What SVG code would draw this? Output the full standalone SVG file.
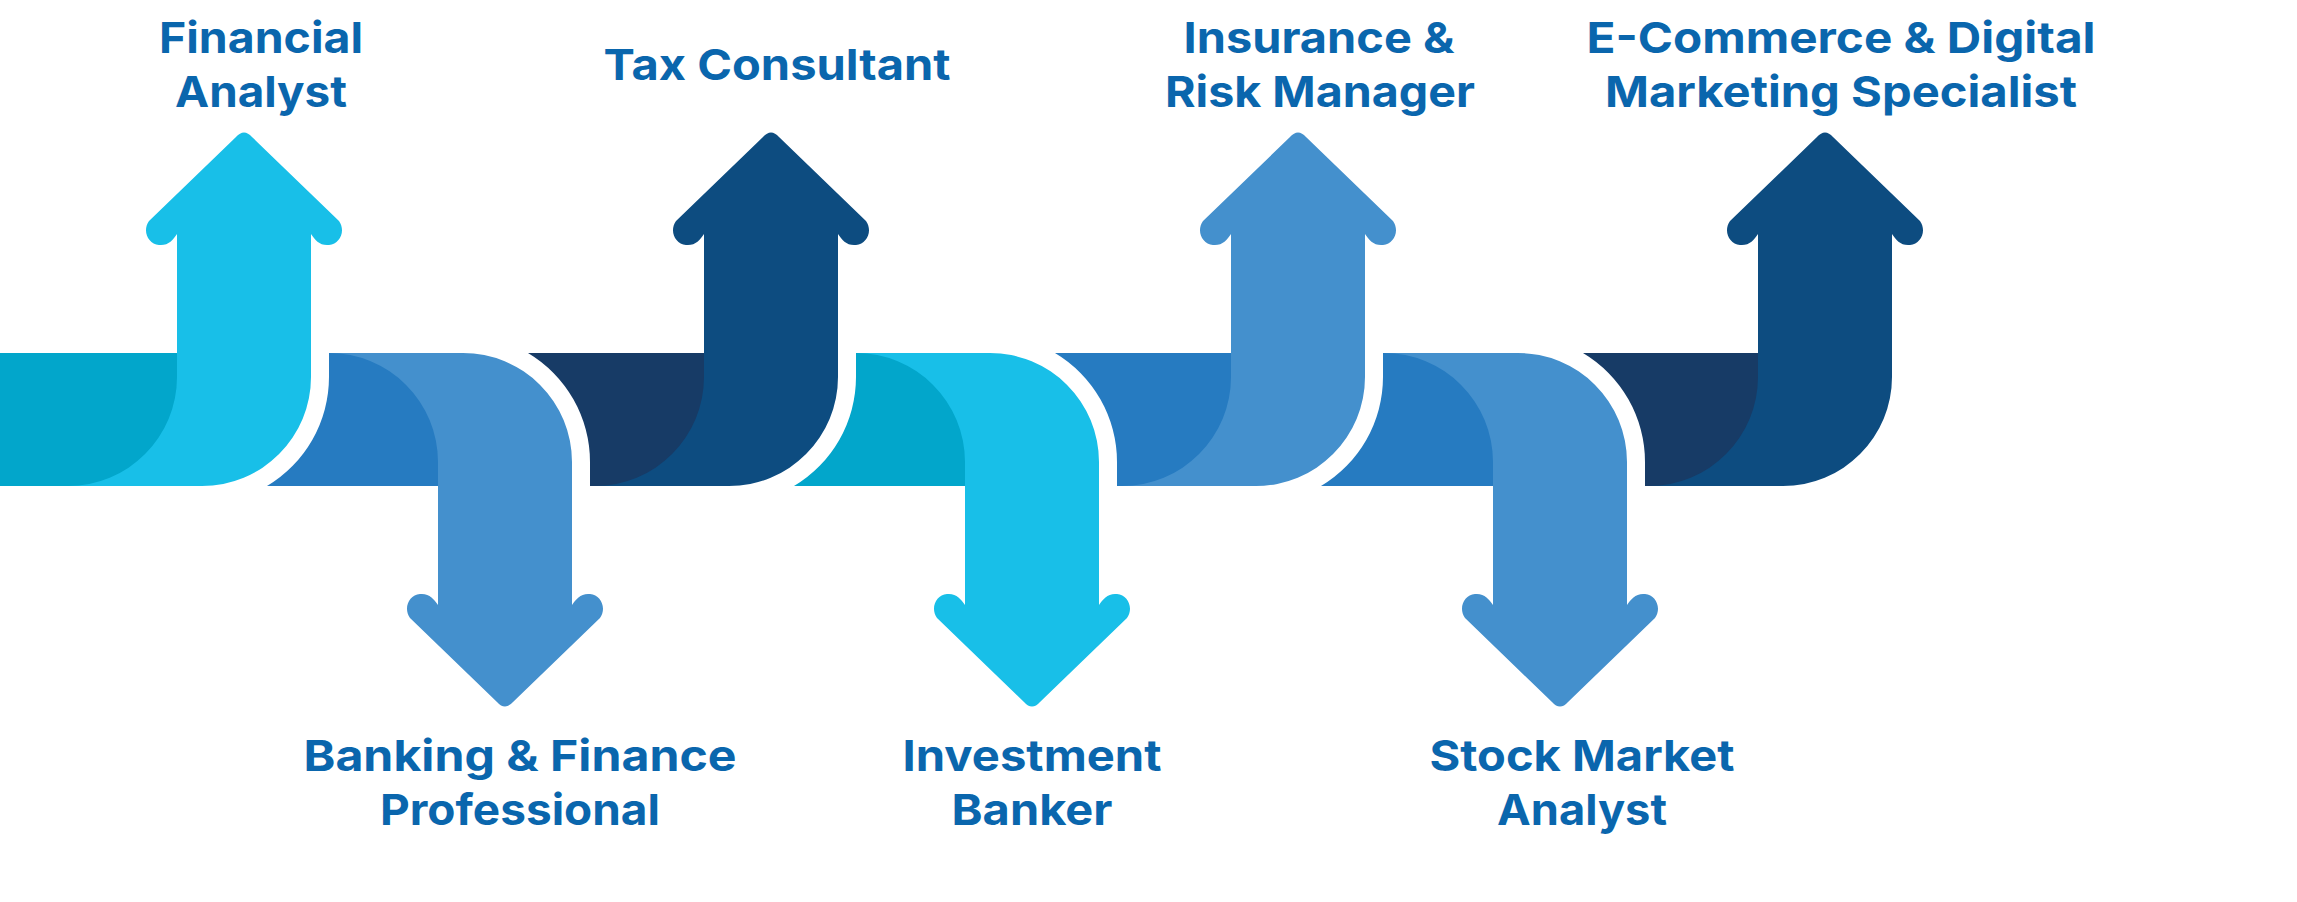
<svg xmlns="http://www.w3.org/2000/svg" xmlns:xlink="http://www.w3.org/1999/xlink" width="2297" height="902" viewBox="0 0 2297 902">
<style>
.lbl{font-family:Inter,"Open Sans","Liberation Sans",sans-serif;font-weight:700;font-size:43px;fill:#0A66AD;text-anchor:middle}
.cyan{fill:#18BFE8}.teal{fill:#02A6CB}.mid{fill:#4490CD}.blue{fill:#267BC1}.navy{fill:#0D4C80}.dnavy{fill:#173B66}
</style>
<defs>
<path id="up" d="M-67,234 C-71,240 -76,246 -85,245 C-96,244 -102,231 -95,221 L-8,137 Q0,128 8,137 L95,221 C102,231 96,244 85,245 C76,246 71,240 67,234 L67,377 A109,109 0 0 1 -42,486 L-176,486 A109,109 0 0 0 -67,377 Z"/>
</defs>
<rect width="2297" height="902" fill="#FFFFFF"/>
<g id="connectors"></g>
<g id="node1">
<rect class="teal" x="0" y="353" width="177" height="133"/>
<use href="#up" class="cyan" transform="translate(244,0)"/>
<text class="lbl" x="261" y="53" textLength="204" lengthAdjust="spacingAndGlyphs">Financial</text>
<text class="lbl" x="261" y="107" textLength="172" lengthAdjust="spacingAndGlyphs">Analyst</text>
</g>
<g id="node2">
<path class="blue" d="M329,353 L438,353 L438,486 L267,486 A127,127 0 0 0 329,377 Z"/>
<use href="#up" class="mid" transform="translate(505,839) scale(1,-1)"/>
<text class="lbl" x="520" y="771" textLength="433" lengthAdjust="spacingAndGlyphs">Banking &amp; Finance</text>
<text class="lbl" x="520" y="825" textLength="280" lengthAdjust="spacingAndGlyphs">Professional</text>
</g>
<g id="node3">
<path class="dnavy" d="M528,353 L704,353 L704,486 L590,486 L590,462 A127,127 0 0 0 528,353 Z"/>
<use href="#up" class="navy" transform="translate(771,0)"/>
<text class="lbl" x="777" y="80" textLength="347" lengthAdjust="spacingAndGlyphs">Tax Consultant</text>
</g>
<g id="node4">
<path class="teal" d="M856,353 L965,353 L965,486 L794,486 A127,127 0 0 0 856,377 Z"/>
<use href="#up" class="cyan" transform="translate(1032,839) scale(1,-1)"/>
<text class="lbl" x="1032" y="771" textLength="259" lengthAdjust="spacingAndGlyphs">Investment</text>
<text class="lbl" x="1032" y="825" textLength="161" lengthAdjust="spacingAndGlyphs">Banker</text>
</g>
<g id="node5">
<path class="blue" d="M1055,353 L1231,353 L1231,486 L1117,486 L1117,462 A127,127 0 0 0 1055,353 Z"/>
<use href="#up" class="mid" transform="translate(1298,0)"/>
<text class="lbl" x="1319" y="53" textLength="271" lengthAdjust="spacingAndGlyphs">Insurance &amp;</text>
<text class="lbl" x="1320" y="107" textLength="310" lengthAdjust="spacingAndGlyphs">Risk Manager</text>
</g>
<g id="node6">
<path class="blue" d="M1383,353 L1493,353 L1493,486 L1321,486 A127,127 0 0 0 1383,377 Z"/>
<use href="#up" class="mid" transform="translate(1560,839) scale(1,-1)"/>
<text class="lbl" x="1582" y="771" textLength="305" lengthAdjust="spacingAndGlyphs">Stock Market</text>
<text class="lbl" x="1582" y="825" textLength="170" lengthAdjust="spacingAndGlyphs">Analyst</text>
</g>
<g id="node7">
<path class="dnavy" d="M1583,353 L1758,353 L1758,486 L1645,486 L1645,462 A127,127 0 0 0 1583,353 Z"/>
<use href="#up" class="navy" transform="translate(1825,0)"/>
<text class="lbl" x="1841" y="53" textLength="509" lengthAdjust="spacingAndGlyphs">E-Commerce &amp; Digital</text>
<text class="lbl" x="1841" y="107" textLength="472" lengthAdjust="spacingAndGlyphs">Marketing Specialist</text>
</g>
</svg>
